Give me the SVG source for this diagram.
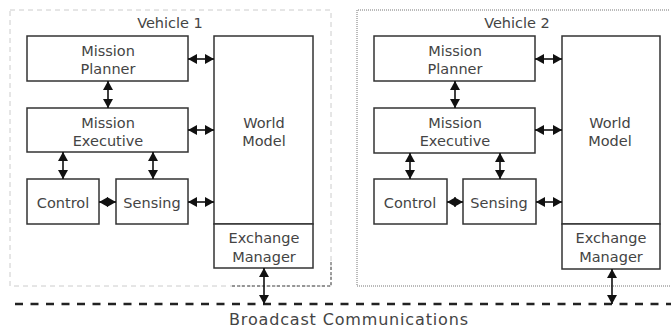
<svg xmlns="http://www.w3.org/2000/svg" width="671" height="329" viewBox="0 0 671 329">
<style>
.box{fill:#fff;stroke:#333;stroke-width:1.5}
.t{font-family:"DejaVu Sans",Verdana,sans-serif;font-size:14.5px;fill:#444;text-anchor:middle}
.c{stroke:#111;stroke-width:1.6;fill:none;marker-start:url(#ah);marker-end:url(#ah)}
</style>
<defs>
<marker id="ah" markerUnits="userSpaceOnUse" markerWidth="9" markerHeight="10" refX="9" refY="5" orient="auto-start-reverse" viewBox="0 0 9 10">
<path d="M0,0 L9,5 L0,10 z" fill="#111"/>
</marker>
</defs>
<rect width="671" height="329" fill="#fff"/>
<g id="vehicle1">
<rect x="10" y="10" width="321" height="276" fill="none" stroke="#ccc" stroke-width="1" stroke-dasharray="5 4"/>
<path d="M232,286 H331 V262" fill="none" stroke="#444" stroke-width="1" stroke-dasharray="3 2"/>
<text class="t" x="170" y="28">Vehicle 1</text>
</g>
<g id="vehicle2">
<path d="M669,10 H357 V286 H671" fill="none" stroke="#777" stroke-width="1" stroke-dasharray="1 1"/>
<text class="t" x="517" y="28">Vehicle 2</text>
</g>
<g id="v1-planner"><rect class="box" x="27" y="36" width="161" height="45"/><text class="t" x="108" y="56">Mission</text><text class="t" x="108" y="74">Planner</text></g>
<g id="v1-executive"><rect class="box" x="27" y="108" width="161" height="44"/><text class="t" x="108" y="128">Mission</text><text class="t" x="108" y="146">Executive</text></g>
<g id="v1-world"><rect class="box" x="214" y="36" width="99" height="188"/><text class="t" x="264" y="128">World</text><text class="t" x="264" y="146">Model</text></g>
<g id="v1-exchange"><rect class="box" x="214" y="224" width="99" height="44"/><text class="t" x="264" y="243">Exchange</text><text class="t" x="264" y="262">Manager</text></g>
<g id="v1-control"><rect class="box" x="27" y="179" width="72" height="45"/><text class="t" x="63" y="208">Control</text></g>
<g id="v1-sensing"><rect class="box" x="116" y="179" width="72" height="45"/><text class="t" x="152" y="208">Sensing</text></g>
<g id="v2-planner"><rect class="box" x="374" y="36" width="161" height="45"/><text class="t" x="455" y="56">Mission</text><text class="t" x="455" y="74">Planner</text></g>
<g id="v2-executive"><rect class="box" x="374" y="108" width="161" height="45"/><text class="t" x="455" y="128">Mission</text><text class="t" x="455" y="146">Executive</text></g>
<g id="v2-world"><rect class="box" x="562" y="36" width="98" height="188"/><text class="t" x="610" y="128">World</text><text class="t" x="610" y="146">Model</text></g>
<g id="v2-exchange"><rect class="box" x="562" y="224" width="98" height="45"/><text class="t" x="611" y="243">Exchange</text><text class="t" x="611" y="262">Manager</text></g>
<g id="v2-control"><rect class="box" x="374" y="179" width="73" height="45"/><text class="t" x="410" y="208">Control</text></g>
<g id="v2-sensing"><rect class="box" x="463" y="179" width="73" height="45"/><text class="t" x="499" y="208">Sensing</text></g>
<g id="broadcast">
<line x1="15" y1="304" x2="671" y2="304" stroke="#222" stroke-width="2.6" stroke-dasharray="8 7.5"/>
<text class="t" x="348.5" y="325" style="font-size:16px" textLength="239" lengthAdjust="spacing">Broadcast Communications</text>
</g>
<g id="connectors">
<line class="c" x1="188" y1="59" x2="214" y2="59"/>
<line class="c" x1="108" y1="81" x2="108" y2="108"/>
<line class="c" x1="188" y1="130" x2="214" y2="130"/>
<line class="c" x1="63" y1="152" x2="63" y2="179"/>
<line class="c" x1="153" y1="152" x2="153" y2="179"/>
<line class="c" x1="99" y1="202" x2="116" y2="202"/>
<line class="c" x1="188" y1="202" x2="214" y2="202"/>
<line class="c" x1="264" y1="268" x2="264" y2="304"/>
<line class="c" x1="535" y1="59" x2="562" y2="59"/>
<line class="c" x1="455" y1="81" x2="455" y2="108"/>
<line class="c" x1="535" y1="130" x2="562" y2="130"/>
<line class="c" x1="410" y1="153" x2="410" y2="179"/>
<line class="c" x1="500" y1="153" x2="500" y2="179"/>
<line class="c" x1="447" y1="202" x2="463" y2="202"/>
<line class="c" x1="536" y1="202" x2="562" y2="202"/>
<line class="c" x1="612" y1="269" x2="612" y2="304"/>
</g>
</svg>
